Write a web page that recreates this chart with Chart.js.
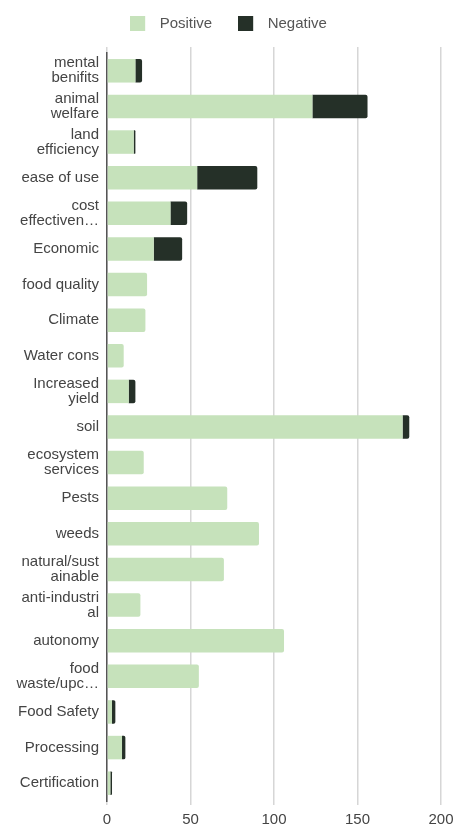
<!DOCTYPE html>
<html>
<head>
    <title>Positive vs Negative mentions</title>
    <script src="https://cdn.jsdelivr.net/npm/chart.js"></script>
    <style>
        body { margin: 0; background: #fff; }
        #wrap { width: 461px; height: 830px; }
    </style>
</head>
<body>
    <div id="wrap">
        <canvas id="myChart"></canvas>
    </div>

    <script>
        // categories (multi-line labels are arrays)
        var categories = [
            ['mental', 'benifits'], ['animal', 'welfare'], ['land', 'efficiency'], 'ease of use',
            ['cost', 'effectiven…'], 'Economic', 'food quality', 'Climate', 'Water cons',
            ['Increased', 'yield'], 'soil', ['ecosystem', 'services'], 'Pests', 'weeds',
            ['natural/sust', 'ainable'], ['anti-industri', 'al'], 'autonomy', ['food', 'waste/upc…'],
            'Food Safety', 'Processing', 'Certification'
        ];
        var positive = [17, 123, 16, 54, 38, 28, 24, 23, 10, 13, 177, 22, 72, 91, 70, 20, 106, 55, 3, 9, 2];
        var negative = [4, 33, 1, 36, 10, 17, 0, 0, 0, 4, 4, 0, 0, 0, 0, 0, 0, 0, 2, 2, 1];
        var xTicks = [0, 50, 100, 150, 200];

        var colors = ['#c6e2bb', '#253028'];
        var font = 'Arial, "Liberation Sans", sans-serif';

        // legend swatch: 15px square on a slightly wider canvas so the gap to the text is wider
        function swatch(color) {
            var c = document.createElement('canvas');
            c.width = 22;
            c.height = 15;
            var ctx = c.getContext('2d');
            ctx.fillStyle = color;
            ctx.fillRect(0, 0, 15, 15);
            return c;
        }
        var swatches = colors.map(swatch);

        var chart = new Chart(document.getElementById('myChart'), {
            type: 'bar',
            data: {
                labels: categories,
                datasets: [{
                    label: 'Positive',
                    data: positive,
                    backgroundColor: colors[0],
                    barPercentage: 0.66,
                    categoryPercentage: 1,
                    borderRadius: 2
                }, {
                    label: 'Negative',
                    data: negative,
                    backgroundColor: colors[1],
                    barPercentage: 0.66,
                    categoryPercentage: 1,
                    borderRadius: 2
                }]
            },
            options: {
                indexAxis: 'y',
                responsive: true,
                maintainAspectRatio: false,
                animation: false,
                layout: { padding: { top: -10, right: 20, bottom: -4, left: 16 } },
                plugins: {
                    legend: {
                        position: 'top',
                        labels: {
                            usePointStyle: true,
                            pointStyleWidth: 22,
                            boxHeight: 15,
                            padding: 26,
                            color: '#555',
                            font: { family: font, size: 15 },
                            generateLabels: function(chart) {
                                var items = Chart.defaults.plugins.legend.labels.generateLabels(chart);
                                items.forEach(function(it, i) { it.pointStyle = swatches[i]; });
                                return items;
                            }
                        }
                    },
                    tooltip: { enabled: false }
                },
                scales: {
                    x: {
                        stacked: true,
                        min: 0,
                        max: 200,
                        afterBuildTicks: function(scale) {
                            scale.ticks = xTicks.map(function(v) { return { value: v }; });
                        },
                        grid: { color: '#d6d6d6', lineWidth: 1.5, tickLength: 4 },
                        border: { display: false },
                        ticks: {
                            color: '#444',
                            padding: 7,
                            font: { family: font, size: 15, lineHeight: 1.0 }
                        }
                    },
                    x2: {
                        position: 'top',
                        min: 0,
                        max: 200,
                        afterBuildTicks: function(scale) {
                            scale.ticks = xTicks.map(function(v) { return { value: v }; });
                        },
                        afterFit: function(scale) { scale.height = 12; },
                        grid: { color: '#d6d6d6', lineWidth: 1.5, drawOnChartArea: false, tickLength: 6 },
                        border: { display: false },
                        ticks: { display: false }
                    },
                    y: {
                        stacked: true,
                        afterFit: function(scale) { scale.width = 91; },
                        grid: { display: false, tickLength: 0 },
                        border: { display: true, color: '#555', width: 1.5 },
                        ticks: {
                            color: '#444',
                            padding: 8,
                            autoSkip: false,
                            font: { family: font, size: 15, lineHeight: 1.0 }
                        }
                    }
                }
            }
        });
    </script>
</body>
</html>
